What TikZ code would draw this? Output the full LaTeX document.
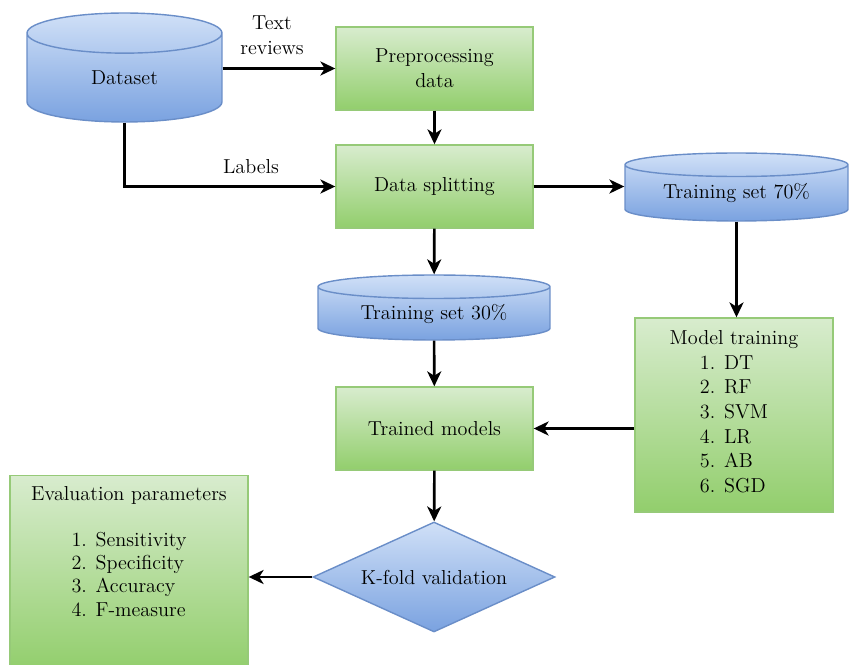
\documentclass[tikz,border=0pt]{standalone}
\usetikzlibrary{positioning,shapes.geometric,arrows.meta}
\definecolor{boxTop}{RGB}{216,236,206}
\definecolor{boxBottom}{RGB}{146,206,108}
\definecolor{boxBorder}{RGB}{150,202,120}
\definecolor{drumTop}{RGB}{208,224,247}
\definecolor{drumBottom}{RGB}{122,162,224}
\definecolor{drumBorder}{RGB}{106,142,200}
\tikzstyle{chart} = [x = 0.02cm, y = -0.02cm, every node/.style={font=\fontsize{11.5}{14}\selectfont}]
\tikzstyle{stepBox} = [draw=boxBorder, thick, top color=boxTop, bottom color=boxBottom, minimum width=3.94cm, minimum height=1.66cm, align=center, inner sep=0pt]
\tikzstyle{drum} = [cylinder, shape border rotate=90, draw=drumBorder, thick, top color=drumTop, bottom color=drumBottom, inner sep=0pt, anchor=shape center]
\tikzstyle{decision} = [diamond, aspect=2.2, draw=drumBorder, thick, top color=drumTop, bottom color=drumBottom, minimum width=4.84cm, minimum height=2.2cm, inner sep=0pt]
\tikzstyle{flowArrow} = [-{Stealth[length=8.5pt, width=8pt, inset=2.5pt]}, line width=1.5pt]

\begin{document}
\begin{tikzpicture}[chart]
  \useasboundingbox (0,0) rectangle (850,665);

  % stores and steps
  \node [drum, aspect=0.6, minimum width=3.9cm, minimum height=2.18cm] (dataSet) at (124.5,67.5) {\raisebox{-6pt}{Dataset}};
  \node [stepBox] (preprocessing) at (434.5,68.5) {Preprocessing\\data};
  \node [stepBox] (dataSplitting) at (434.5,186.5) {Data splitting};
  \node [drum, aspect=0.16, minimum width=4.46cm, minimum height=1.36cm] (trainSeventy) at (736.5,187) {Training set 70\%};
  \node [drum, aspect=0.16, minimum width=4.64cm, minimum height=1.3cm] (trainThirty) at (434,307.5) {Training set 30\%};
  \node [stepBox] (trainedModels) at (434.5,428.5) {Trained models};
  \node [stepBox, minimum width=3.96cm, minimum height=3.88cm] (modelTraining) at (734,415)
    {Model training\\[1pt]
     \begin{tabular}{@{}l@{}}1. DT\\2. RF\\3. SVM\\4. LR\\5. AB\\6. SGD\end{tabular}};
  \node [decision] (kFold) at (434,577) {K-fold validation};
  \node [stepBox, minimum width=4.76cm, minimum height=3.9cm] (evalParams) at (129,573) {};
  \node [below=3pt of evalParams.north, align=center] (evalText)
    {Evaluation parameters\\[13pt]
     \begin{tabular}{@{}l@{}}1. Sensitivity\\[-0.7pt]2. Specificity\\[-0.7pt]3. Accuracy\\[-0.7pt]4. F-measure\end{tabular}};

  % connectors
  \draw [flowArrow] (dataSet.east |- preprocessing.west) -- node [above=4pt, align=center, xshift=-4pt] (textLabel) {Text\\reviews} (preprocessing.west);
  \draw [flowArrow] (dataSet.south) |- node [pos=0.8, above=3pt] (labelsLabel) {Labels} (dataSplitting.west);
  \draw [flowArrow] (preprocessing) -- (dataSplitting);
  \draw [flowArrow] (dataSplitting.east) -- (dataSplitting.east -| trainSeventy.west);
  \draw [flowArrow] (dataSplitting) -- (trainThirty);
  \draw [flowArrow] (trainSeventy.south) -- (trainSeventy.south |- modelTraining.north);
  \draw [flowArrow] (trainThirty) -- (trainedModels);
  \draw [flowArrow] (modelTraining.west |- trainedModels.east) -- (trainedModels.east);
  \draw [flowArrow] (trainedModels) -- (kFold);
  \draw [flowArrow] (kFold.west) -- (kFold.west -| evalParams.east);
\end{tikzpicture}
\end{document}
